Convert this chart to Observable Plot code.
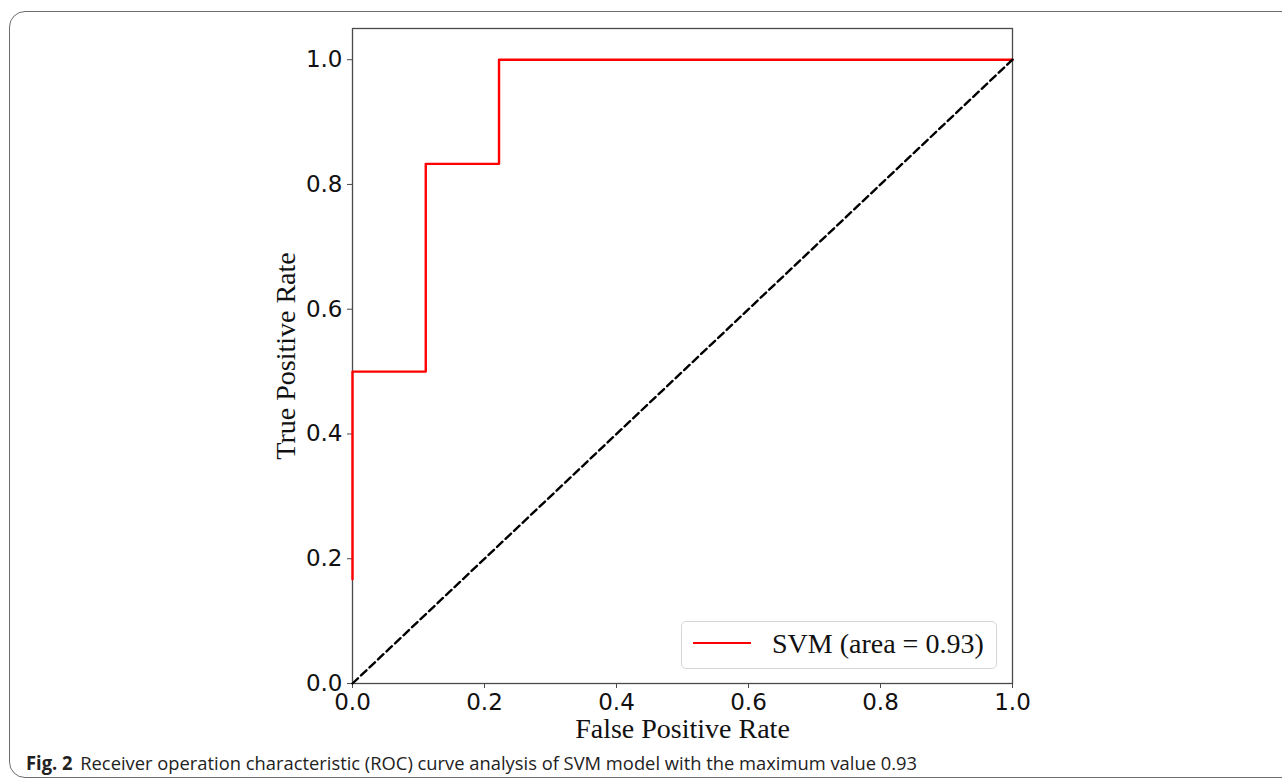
<!DOCTYPE html>
<html>
<head>
<meta charset="utf-8">
<script src="https://cdn.jsdelivr.net/npm/d3@7"></script>
<script src="https://cdn.jsdelivr.net/npm/@observablehq/plot@0.6"></script>
<style>
  html, body { margin: 0; padding: 0; background: #fff; }
  #wrap { position: relative; width: 1282px; height: 780px; overflow: hidden; }
  #box { position: absolute; left: 9px; top: 11px; width: 1300px; height: 767px;
         border: 1.5px solid #6e6e6e; border-radius: 16px; box-sizing: border-box; }
  #chart { position: absolute; left: 0; top: 0; }
  #legend { position: absolute; left: 681px; top: 621px; width: 316px; height: 48px;
            border: 1.3px solid #d6d6d6; border-radius: 5px; box-sizing: border-box; background: rgba(255,255,255,0.8); }
  #legend .sw { position: absolute; left: 11px; top: 20px; width: 58px; height: 0; border-top: 2.4px solid #ff0000; }
  #legend .lt { position: absolute; left: 90px; top: 4px; font-family: "Liberation Serif", "Times New Roman", serif;
                font-size: 28px; line-height: 36px; color: #111; white-space: nowrap; }
  #caption { position: absolute; left: 26px; top: 751px; font-family: "Open Sans", "Noto Sans", sans-serif;
             font-size: 19px; color: #222; white-space: nowrap; line-height: 24px; transform-origin: 0 50%; }
  #caption b { font-weight: 700; margin-right: 8px; }
</style>
</head>
<body>
<div id="wrap">
  <div id="box"></div>
  <div id="chart"></div>
  <div id="legend"><div class="sw"></div><div class="lt"></div></div>
  <div id="caption"></div>
</div>
<script>
// ROC curve points (false positive rate, true positive rate)
const fpr = [0, 0, 0.111, 0.111, 0.222, 0.222, 1.0];
const tpr = [0.167, 0.5, 0.5, 0.833, 0.833, 1.0, 1.0];
// chance diagonal
const diagX = [0, 1];
const diagY = [0, 1];
// ticks
const xTicks = [0, 0.2, 0.4, 0.6, 0.8, 1.0];
const yTicks = [0, 0.2, 0.4, 0.6, 0.8, 1.0];
// texts
const xLabel = "False Positive Rate";
const yLabel = "True Positive Rate";
const legendLabel = "SVM (area = 0.93)";
const captionBold = "Fig. 2";
const captionText = "Receiver operation characteristic (ROC) curve analysis of SVM model with the maximum value 0.93";

const roc = fpr.map((x, i) => ({x, y: tpr[i]}));
const diag = diagX.map((x, i) => ({x, y: diagY[i]}));

const serif = "Liberation Serif, Times New Roman, serif";

const chart = Plot.plot({
  width: 1282,
  height: 780,
  marginLeft: 352,
  marginRight: 270,
  marginTop: 28,
  marginBottom: 97,
  x: {domain: [0, 1]},
  y: {domain: [0, 1.05]},
  style: {background: "transparent", fontFamily: "DejaVu Sans, sans-serif", color: "#111"},
  marks: [
    Plot.frame({stroke: "#4a4a4a", strokeWidth: 1.3}),
    Plot.axisX({ticks: xTicks, tickFormat: d => d.toFixed(1), tickSize: 5, tickPadding: 5,
                fontSize: 23, label: null, stroke: "#4a4a4a", fill: "#111"}),
    Plot.axisY({ticks: yTicks, tickFormat: d => d.toFixed(1), tickSize: 5, tickPadding: 5,
                fontSize: 23, label: null, stroke: "#4a4a4a", fill: "#111"}),
    Plot.line(roc, {x: "x", y: "y", stroke: "#ff0000", strokeWidth: 2.4}),
    Plot.line(diag, {x: "x", y: "y", stroke: "#000", strokeWidth: 2.4, strokeDasharray: "7.5,4.2"}),
    Plot.text([xLabel], {text: d => d, frameAnchor: "bottom", dy: 46, textAnchor: "middle", lineAnchor: "middle",
                fontSize: 28, fontFamily: serif, fill: "#111"}),
    Plot.text([yLabel], {text: d => d, frameAnchor: "left", dx: -66, rotate: -90, textAnchor: "middle", lineAnchor: "middle",
                fontSize: 28, fontFamily: serif, fill: "#111"})
  ]
});
document.getElementById("chart").appendChild(chart);

document.querySelector("#legend .lt").textContent = legendLabel;
const cap = document.getElementById("caption");
const b = document.createElement("b");
b.textContent = captionBold;
cap.appendChild(b);
cap.appendChild(document.createTextNode(captionText));
// fit caption to its span in the reference (26px .. 917px)
const w = cap.getBoundingClientRect().width;
cap.style.transform = `scaleX(${(917 - 26) / w})`;
</script>
</body>
</html>
